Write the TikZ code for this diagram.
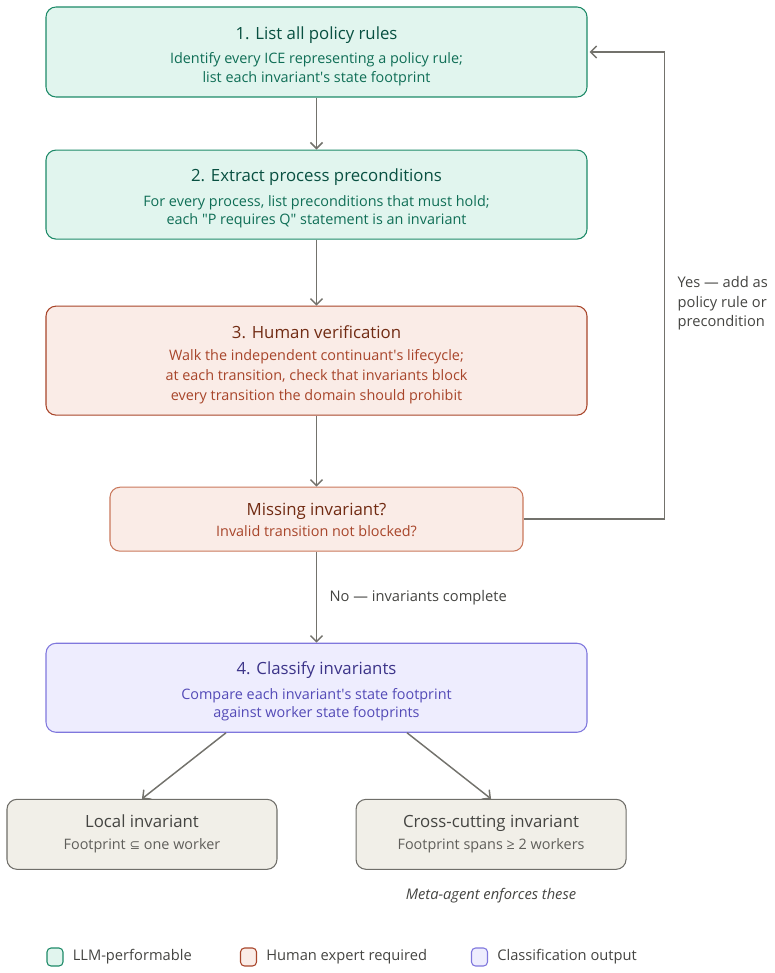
\documentclass[tikz,border=0pt]{standalone}
\usepackage{fontspec}
\setmainfont{Open Sans}
\newfontfamily\symfont{DejaVu Sans}
\usetikzlibrary{positioning,arrows.meta}

\definecolor{tealfill}{HTML}{E1F5EE}
\definecolor{tealline}{HTML}{1D8A68}
\definecolor{tealtext}{HTML}{0F6E56}
\definecolor{tealdark}{HTML}{085041}
\definecolor{coralfill}{HTML}{FAECE7}
\definecolor{coralline}{HTML}{A8452A}
\definecolor{corallight}{HTML}{C9785C}
\definecolor{coraltext}{HTML}{A8452A}
\definecolor{coraldark}{HTML}{712B13}
\definecolor{purplefill}{HTML}{EEEDFE}
\definecolor{purpleline}{HTML}{7F77DD}
\definecolor{purpletext}{HTML}{534AB7}
\definecolor{purpledark}{HTML}{3C3489}
\definecolor{grayfill}{HTML}{F1EFE8}
\definecolor{grayline}{HTML}{6F6E69}
\definecolor{graytext}{HTML}{5F5E5A}
\definecolor{graydark}{HTML}{444441}
\definecolor{wire}{HTML}{73726C}

% title line of a step box, optional gap to the body text
\newlength\titlestrut
\setlength\titlestrut{15.5pt}
\newcommand{\boxtitle}[2][4.3pt]{{\fontsize{12.6}{15}\selectfont\color{titlecol}\rule{0pt}{\titlestrut}#2}\\[#1]}

\tikzset{
  box/.style={draw, rounded corners=7.5pt, line width=0.8pt, align=center,
    minimum width=405.75pt, minimum height=67.5pt,
    font=\fontsize{10.8}{14}\selectfont},
  llm/.style={box, fill=tealfill, draw=tealline, text=tealtext,
    execute at begin node=\colorlet{titlecol}{tealdark}},
  human/.style={box, fill=coralfill, draw=coralline, text=coraltext,
    execute at begin node=\colorlet{titlecol}{coraldark}},
  classbox/.style={box, fill=purplefill, draw=purpleline, text=purpletext,
    execute at begin node=\colorlet{titlecol}{purpledark}},
  leaf/.style={box, fill=grayfill, draw=grayline, text=graytext,
    minimum width=202.5pt, minimum height=52.5pt,
    execute at begin node={\colorlet{titlecol}{graydark}\setlength\titlestrut{0pt}}},
  flow/.style={->, draw=wire, line width=1.1pt},
  note/.style={text=graydark, font=\fontsize{11}{14.5}\selectfont},
  legsq/.style={draw, rounded corners=3pt, line width=0.8pt,
    minimum width=12pt, minimum height=13.5pt, inner sep=0pt},
  legtext/.style={text=graydark, font=\fontsize{11}{13}\selectfont, inner sep=0pt}
}

\begin{document}
\begin{tikzpicture}[x=0.75pt, y=-0.75pt, >={Straight Barb[length=4.5pt,width=9pt]}]
  \useasboundingbox (0,0) rectangle (774,973);

  \node[llm] (policy) at (316.5,52)
    {\boxtitle{1. List all policy rules}
     Identify every ICE representing a policy rule;\\
     list each invariant\textquotesingle s state footprint};
  \node[llm, below=39pt of policy, minimum height=66.75pt] (precond)
    {\boxtitle{2. Extract process preconditions}
     For every process, list preconditions that must hold;\\
     each \textquotedbl P requires Q\textquotedbl{} statement is an invariant};
  \node[human, below=49.5pt of precond, minimum height=81.75pt] (verify)
    {\boxtitle[2.5pt]{3. Human verification}
     Walk the independent continuant\textquotesingle s lifecycle;\\[1pt]
     at each transition, check that invariants block\\[1pt]
     every transition the domain should prohibit};
  \node[human, draw=corallight, below=53.25pt of verify,
        minimum width=309.75pt, minimum height=48pt,
        execute at begin node={\colorlet{titlecol}{coraldark}\setlength\titlestrut{11pt}}] (missing)
    {\boxtitle[1.75pt]{Missing invariant?}
     Invalid transition not blocked?};
  \node[classbox, below=68.25pt of missing, minimum height=66.75pt] (classify)
    {\boxtitle{4. Classify invariants}
     Compare each invariant\textquotesingle s state footprint\\
     against worker state footprints};
  \node[leaf, below=49.5pt of classify, xshift=-130.9pt] (local)
    {\boxtitle[2.5pt]{Local invariant}
     Footprint {\symfont\fontsize{9.5}{14}\selectfont ⊆} one worker};
  \node[leaf, below=49.5pt of classify, xshift=130.9pt] (cross)
    {\boxtitle[2.5pt]{Cross-cutting invariant}
     Footprint spans ≥ 2 workers};
  \node[note, below=10pt of cross, font=\itshape\fontsize{11}{13}\selectfont] (meta)
    {Meta-agent enforces these};

  % main flow
  \draw[flow] (policy) -- (precond);
  \draw[flow] (precond) -- (verify);
  \draw[flow] (verify) -- (missing);
  \draw[flow] (missing) -- node[note, right, xshift=6pt] (nolbl) {No — invariants complete} (classify);
  \draw[flow] ([xshift=-67.9pt]classify.south) -- (local.north);
  \draw[flow] ([xshift=67.9pt]classify.south) -- (cross.north);

  % feedback loop
  \draw[flow, shorten >=1.5pt] (missing.east) -| ([xshift=57.75pt]policy.east) -- (policy.east);
  \node[note, anchor=north west, align=left] (yeslbl) at (673,272)
    {Yes — add as\\ policy rule or\\ precondition};

  % legend
  \node[legsq, fill=tealfill, draw=tealline] (leg1) at (55,957) {};
  \node[legtext, right=6.75pt of leg1] (leg1txt) {LLM-performable};
  \node[legsq, fill=coralfill, draw=coralline] (leg2) at (248.5,957) {};
  \node[legtext, right=6.75pt of leg2] (leg2txt) {Human expert required};
  \node[legsq, fill=purplefill, draw=purpleline] (leg3) at (479.5,957) {};
  \node[legtext, right=6.75pt of leg3] (leg3txt) {Classification output};
\end{tikzpicture}
\end{document}
